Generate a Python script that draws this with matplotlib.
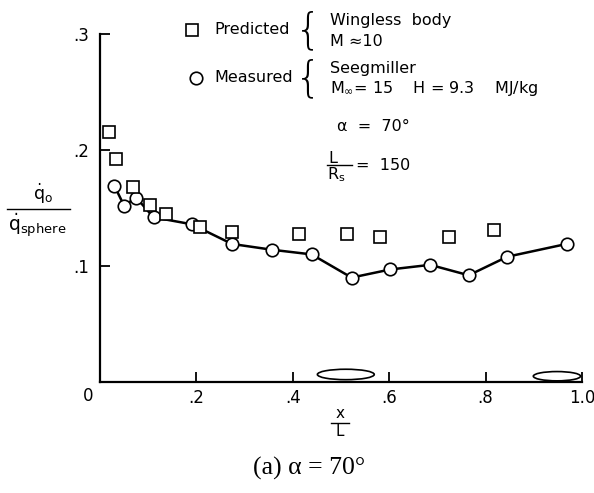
import matplotlib
matplotlib.use("Agg")
import matplotlib.pyplot as plt
from matplotlib.patches import Ellipse

plt.rcParams['font.family'] = ['DejaVu Sans']
plt.rcParams['mathtext.fontset'] = 'dejavusans'

# Predicted (wingless body, M ~ 10)
pred_x = [0.019, 0.034, 0.068, 0.104, 0.136, 0.208, 0.273, 0.412, 0.512, 0.581, 0.725, 0.817]
pred_y = [0.2155, 0.192, 0.168, 0.153, 0.145, 0.134, 0.129, 0.128, 0.128, 0.125, 0.125, 0.131]

# Measured (Seegmiller)
meas_x = [0.030, 0.050, 0.075, 0.111, 0.190, 0.274, 0.357, 0.439, 0.522, 0.602, 0.685, 0.765, 0.845, 0.968]
meas_y = [0.169, 0.152, 0.159, 0.142, 0.136, 0.119, 0.114, 0.110, 0.090, 0.097, 0.101, 0.092, 0.108, 0.119]

xticks = [0, 0.2, 0.4, 0.6, 0.8, 1.0]
xticklabels = ['', '.2', '.4', '.6', '.8', '1.0']
yticks = [0.1, 0.2, 0.3]
yticklabels = ['.1', '.2', '.3']

fig = plt.figure(figsize=(5.94, 4.93), dpi=100)
ax = fig.add_axes([100/594, 111/493, 482/594, 348/493])
ax.set_xlim(0, 1.0)
ax.set_ylim(0, 0.3)
for s in ['top', 'right']:
    ax.spines[s].set_visible(False)
for s in ['left', 'bottom']:
    ax.spines[s].set_linewidth(1.6)
ax.set_xticks(xticks)
ax.set_xticklabels(xticklabels)
ax.set_yticks(yticks)
ax.set_yticklabels(yticklabels)
ax.tick_params(direction='in', length=7, width=1.3, labelsize=12, pad=8)
ax.tick_params(axis='x', pad=5)

ax.plot(meas_x, meas_y, '-', color='black', lw=1.8, zorder=2)
ax.plot(meas_x, meas_y, 'o', mfc='white', mec='black', ms=9, mew=1.2, zorder=3, clip_on=False)
ax.plot(pred_x, pred_y, 's', mfc='white', mec='black', ms=8.5, mew=1.2, zorder=4, clip_on=False)

# planform sketches on the axis
ax.add_patch(Ellipse((0.51, 0.0065), 0.118, 0.009, fill=False, lw=1.2, ec='black', clip_on=False))
ax.add_patch(Ellipse((0.948, 0.005), 0.098, 0.008, fill=False, lw=1.2, ec='black', clip_on=False))

# legend-like annotations (figure pixel coords)
def ft(x, y, s, **kw):
    fig.text(x/594, 1 - y/493, s, **kw)

ft(88, 396, '0', fontsize=12, va='center', ha='center')

fig.lines.append(plt.Line2D([192/594], [1 - 30/493], marker='s', ms=8.5, mfc='white', mec='black', mew=1.2, transform=fig.transFigure))
fig.lines.append(plt.Line2D([196/594], [1 - 78/493], marker='o', ms=9, mfc='white', mec='black', mew=1.2, transform=fig.transFigure))
ft(214, 30, 'Predicted', fontsize=11.5, va='center')
ft(214, 78, 'Measured', fontsize=11.5, va='center')
ft(321, 31, '{', fontsize=30, va='center', ha='right', fontweight='light')
ft(321, 79, '{', fontsize=30, va='center', ha='right', fontweight='light')
ft(330, 20, 'Wingless  body', fontsize=11.5, va='center')
ft(330, 41, 'M \u224810', fontsize=11.5, va='center')
ft(330, 68, 'Seegmiller', fontsize=11.5, va='center')
ft(330, 88, r'M$_{\infty}$= 15    H = 9.3    MJ/kg', fontsize=11.5, va='center')
ft(337, 127, '\u03b1  =  70\u00b0', fontsize=11.5, va='center')
ft(328, 158, 'L', fontsize=11.5, va='center')
fig.lines.append(plt.Line2D([327/594, 352/594], [1 - 165/493, 1 - 165/493], color='black', lw=1.0, transform=fig.transFigure))
ft(327, 175, r'R$_{\rm s}$', fontsize=11.5, va='center')
ft(356, 166, '=  150', fontsize=11.5, va='center')

# y label fraction
ft(33, 194, r'$\dot{\rm q}_{\rm o}$', fontsize=12.5, va='center')
fig.lines.append(plt.Line2D([7/594, 70/594], [1 - 209/493, 1 - 209/493], color='black', lw=1.0, transform=fig.transFigure))
ft(8, 226, r'$\dot{\rm q}_{\rm sphere}$', fontsize=13.5, va='center')

# x label fraction
ft(340, 414, 'x', fontsize=11, va='center', ha='center')
fig.lines.append(plt.Line2D([331/594, 349/594], [1 - 423/493, 1 - 423/493], color='black', lw=1.0, transform=fig.transFigure))
ft(340, 432, 'L', fontsize=11, va='center', ha='center')

# caption
ft(309, 468, '(a) \u03b1 = 70\u00b0', fontsize=18.5, va='center', ha='center', family='Liberation Serif')

fig.savefig('out.png', dpi=100)
